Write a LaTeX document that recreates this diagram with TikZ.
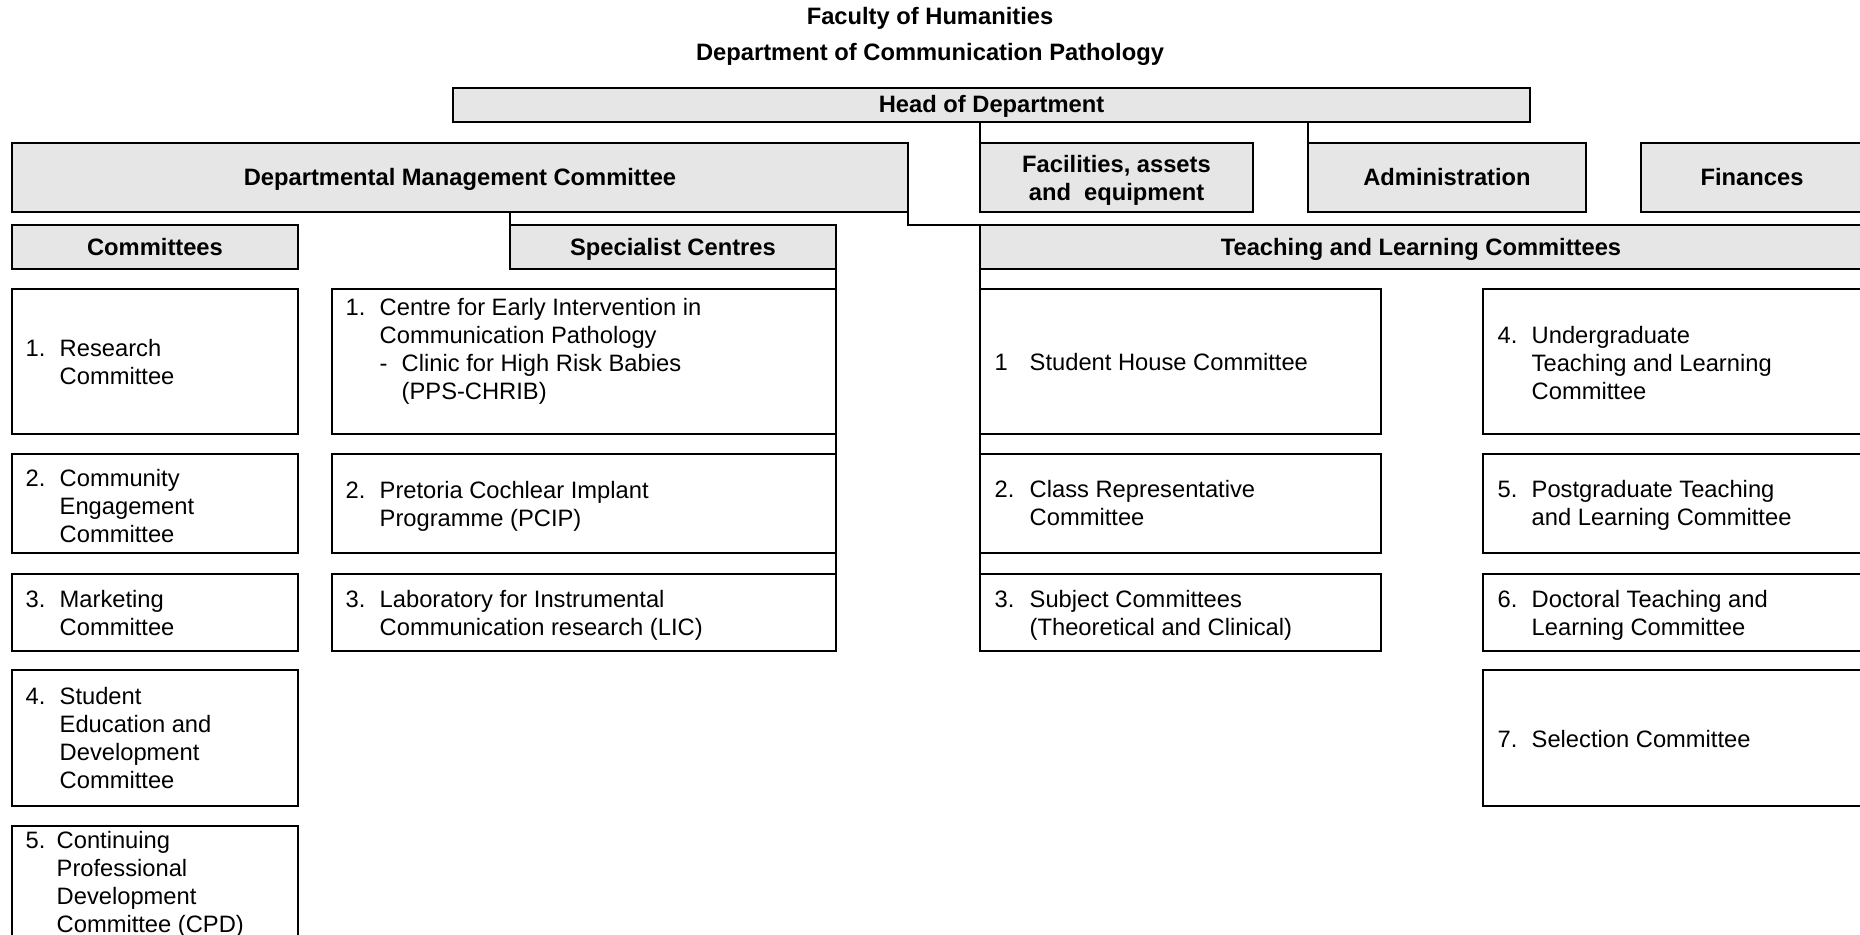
\documentclass[tikz,border=0pt]{standalone}
\usepackage{fontspec}
\setmainfont{Liberation Sans}
\usetikzlibrary{fit}
\definecolor{boxgray}{RGB}{230,230,230}
\newcommand\numtab[2]{\begin{tabular}[t]{@{}p{#1}@{}l@{}}#2\end{tabular}}
\newcommand\ctab[1]{\begin{tabular}[t]{@{}c@{}}#1\end{tabular}}
\begin{document}
\begin{tikzpicture}[x=0.1mm,y=-0.1mm,
  plain/.style={line width=0.7pt, inner sep=0pt, outer sep=0pt},
  box/.style={plain, draw},
  hdr/.style={box, fill=boxgray},
  conn/.style={line width=0.7pt},
  txt/.style={inner sep=0pt, anchor=base west, font=\fontsize{6.75pt}{7.97pt}\selectfont},
  btxt/.style={inner sep=0pt, anchor=base, font=\fontsize{6.75pt}{7.97pt}\selectfont\bfseries}]
\useasboundingbox (0,0) rectangle (1860,934);
\clip (0,0) rectangle (1860,934);

% titles
\node[btxt] (title1) at (930,24.5) {Faculty of Humanities};
\node[btxt] (title2) at (930,60.5) {Department of Communication Pathology};

% header boxes
\node[hdr, fit={(453,88) (1530,122)}] (head) {};
\node[hdr, fit={(12,143) (908,212)}] (dmc) {};
\node[hdr, fit={(980,143) (1253,212)}] (fac) {};
\node[hdr, fit={(1308,143) (1586,212)}] (adm) {};
\node[hdr, fit={(1641,143) (1866,212)}] (fin) {};
\node[hdr, fit={(12,225) (298,269)}] (com) {};
\node[hdr, fit={(510,225) (836,269)}] (spc) {};
\node[hdr, fit={(980,225) (1866,269)}] (tlc) {};

\node[btxt] (headt) at (991.5,112) {Head of Department};
\node[btxt] (dmct) at (460,185) {Departmental Management Committee};
\node[btxt] (fact) at (1116.5,172) {\ctab{Facilities, assets\\and\ \ equipment}};
\node[btxt] (admt) at (1447,185) {Administration};
\node[btxt] (fint) at (1752,185) {Finances};
\node[btxt] (comt) at (155,255) {Committees};
\node[btxt] (spct) at (673,255) {Specialist Centres};
\node[btxt] (tlct) at (1421,255) {Teaching and Learning Committees};

% item boxes
\node[box, fit={(12,289) (298,434)}] (c1) {};
\node[box, fit={(12,454) (298,553)}] (c2) {};
\node[box, fit={(12,574) (298,651)}] (c3) {};
\node[box, fit={(12,670) (298,806)}] (c4) {};
\node[box, fit={(12,826) (298,950)}] (c5) {};
\node[box, fit={(332,289) (836,434)}] (s1) {};
\node[box, fit={(332,454) (836,553)}] (s2) {};
\node[box, fit={(332,574) (836,651)}] (s3) {};
\node[box, fit={(980,289) (1381,434)}] (t1) {};
\node[box, fit={(980,454) (1381,553)}] (t2) {};
\node[box, fit={(980,574) (1381,651)}] (t3) {};
\node[box, fit={(1483,289) (1866,434)}] (t4) {};
\node[box, fit={(1483,454) (1866,553)}] (t5) {};
\node[box, fit={(1483,574) (1866,651)}] (t6) {};
\node[box, fit={(1483,670) (1866,806)}] (t7) {};

% item texts
\node[txt] (c1t) at (25,356) {\numtab{3.4mm}{1.&Research\\&Committee}};
\node[txt] (c2t) at (25,486) {\numtab{3.4mm}{2.&Community\\&Engagement\\&Committee}};
\node[txt] (c3t) at (25,607) {\numtab{3.4mm}{3.&Marketing\\&Committee}};
\node[txt] (c4t) at (25,704) {\numtab{3.4mm}{4.&Student\\&Education and\\&Development\\&Committee}};
\node[txt] (c5t) at (25,848) {\numtab{3.1mm}{5.&Continuing\\&Professional\\&Development\\&Committee (CPD)}};
\node[txt] (s1t) at (345,315) {\numtab{3.4mm}{1.&Centre for Early Intervention in\\&Communication Pathology\\&\makebox[2.2mm][l]{-}Clinic for High Risk Babies\\&\hspace*{2.2mm}(PPS-CHRIB)}};
\node[txt] (s2t) at (345,498) {\numtab{3.4mm}{2.&Pretoria Cochlear Implant\\&Programme (PCIP)}};
\node[txt] (s3t) at (345,607) {\numtab{3.4mm}{3.&Laboratory for Instrumental\\&Communication research (LIC)}};
\node[txt] (t1t) at (994,370) {\numtab{3.5mm}{1&Student House Committee}};
\node[txt] (t2t) at (994,497) {\numtab{3.5mm}{2.&Class Representative\\&Committee}};
\node[txt] (t3t) at (994,607) {\numtab{3.5mm}{3.&Subject Committees\\&(Theoretical and Clinical)}};
\node[txt] (t4t) at (1497,343) {\numtab{3.4mm}{4.&Undergraduate\\&Teaching and Learning\\&Committee}};
\node[txt] (t5t) at (1497,497) {\numtab{3.4mm}{5.&Postgraduate Teaching\\&and Learning Committee}};
\node[txt] (t6t) at (1497,607) {\numtab{3.4mm}{6.&Doctoral Teaching and\\&Learning Committee}};
\node[txt] (t7t) at (1497,747) {\numtab{3.4mm}{7.&Selection Committee}};

% connectors
\draw[conn] (fac.north west |- head.south) -- (fac.north west);
\draw[conn] (adm.north west |- head.south) -- (adm.north west);
\draw[conn] (spc.north west |- dmc.south) -- (spc.north west);
\draw[conn] (dmc.south east) |- (tlc.north west);
\draw[conn] (spc.south east) -- (s3.south east);
\draw[conn] (tlc.south west) -- (t3.south west);
\end{tikzpicture}
\end{document}
